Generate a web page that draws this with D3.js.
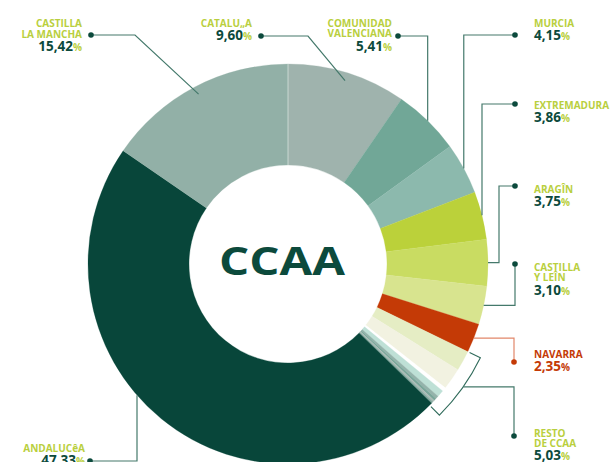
<!DOCTYPE html>
<html>
<head>
<meta charset="utf-8">
<script src="https://cdn.jsdelivr.net/npm/d3@7"></script>
<style>
  body { margin: 0; background: #fff; }
  svg { display: block; font-family: "Open Sans", sans-serif; }
</style>
</head>
<body>
<div id="chart"></div>
<script>
// share of each comunidad, clockwise from 12 o'clock
const regions = ["CATALU„A", "COMUNIDAD VALENCIANA", "MURCIA", "EXTREMADURA", "ARAGÎN",
  "CASTILLA Y LEÎN", "NAVARRA", "RESTO DE CCAA", "ANDALUCêA", "CASTILLA LA MANCHA"];
const shares = [9.60, 5.41, 4.15, 3.86, 3.75, 3.10, 2.35, 5.03, 47.33, 15.42];
const valueLabels = ["9,60", "5,41", "4,15", "3,86", "3,75", "3,10", "2,35", "5,03", "47,33", "15,42"];
const labelLines = [["CATALU„A"], ["COMUNIDAD", "VALENCIANA"], ["MURCIA"], ["EXTREMADURA"], ["ARAGÎN"],
  ["CASTILLA", "Y LEÎN"], ["NAVARRA"], ["RESTO", "DE CCAA"], ["ANDALUCêA"], ["CASTILLA", "LA MANCHA"]];
const colors = ["#9fb3ad", "#71a797", "#8cb9ad", "#bbd13a", "#c9dc62", "#d8e48f", "#c43a06", null, "#08463a", "#92b0a7"];
// the "resto" wedge is made of small slices (estimated)
const restoParts = [1.64, 1.75, 0.33, 0.56, 0.25, 0.20, 0.15, 0.15];
const restoColors = ["#e5edc4", "#f2f2e1", "#ffffff", "#bee0d6", "#94b3ab", "#7aa69a", "#a9bab5", "#86aaa0"];

const width = 610, height = 462;
const cx = 288, cy = 264, R = 200, r0 = 99;
const lime = "#b9cf3e", dark = "#0c4a3c", lineCol = "#44796b", red = "#c43a06";

const svg = d3.select("#chart").append("svg")
  .attr("width", width).attr("height", height);

const slices = [];
shares.forEach((v, i) => {
  if (colors[i] === null) {
    restoParts.forEach((p, j) => slices.push({ group: i, value: p, color: restoColors[j] }));
  } else {
    slices.push({ group: i, value: v, color: colors[i] });
  }
});

const pie = d3.pie().sort(null).value(d => d.value);
const arcs = pie(slices);
const arc = d3.arc().innerRadius(r0).outerRadius(R);

const g = svg.append("g").attr("transform", `translate(${cx},${cy})`);
g.selectAll("path").data(arcs).join("path")
  .attr("d", arc)
  .attr("fill", d => d.data.color)
  .attr("stroke", d => d.data.color)
  .attr("stroke-width", 0.3);

// faint seam at 12 o'clock
g.append("line").attr("x1", 0).attr("x2", 0).attr("y1", -r0).attr("y2", -R)
  .attr("stroke", "#fff").attr("stroke-opacity", 0.5).attr("stroke-width", 1);

// angular extent of each comunidad
const groups = shares.map((v, i) => {
  const a = arcs.filter(d => d.data.group === i);
  const s = d3.min(a, d => d.startAngle), e = d3.max(a, d => d.endAngle);
  return { start: s, end: e, mid: (s + e) / 2 };
});
const pt = (a, rad) => [cx + rad * Math.sin(a), cy - rad * Math.cos(a)];

// bracket round the resto wedge
const rg = groups[7];
const bracketR = 214, tickR = 202;
const b0 = pt(rg.start, tickR), b1 = pt(rg.start, bracketR), b2 = pt(rg.end + 0.015, bracketR), b3 = pt(rg.end + 0.015, tickR);
svg.append("path")
  .attr("d", `M${b0}L${b1}A${bracketR},${bracketR} 0 0 1 ${b2}L${b3}`)
  .attr("fill", "none").attr("stroke", "#2f6a5a").attr("stroke-width", 1.1);

// leader layout: dot position, text anchor and path shape
const layout = [
  { dot: [261, 36], anchor: "end", tx: 252, ty: 26.7, kind: "diag", ex: 308 },
  { dot: [398, 36], anchor: "end", tx: 392, ty: 27, kind: "hv" },
  { dot: [515, 35], anchor: "start", tx: 534, ty: 26.7, kind: "hv" },
  { dot: [515, 104], anchor: "start", tx: 534, ty: 109, kind: "hv" },
  { dot: [515, 186], anchor: "start", tx: 534, ty: 192.7, kind: "hvh", ex: 499 },
  { dot: [515, 264], anchor: "start", tx: 534, ty: 271, kind: "vh" },
  { dot: [514, 362], anchor: "start", tx: 534, ty: 358, kind: "vh" },
  { dot: [514, 436], anchor: "start", tx: 534, ty: 436.7, kind: "bracket" },
  { dot: [90, 461], anchor: "end", tx: 85, ty: 451.7, kind: "hcircle", ex: 137 },
  { dot: [91, 35], anchor: "end", tx: 82, ty: 27.3, kind: "diag", ex: 135 }
];

layout.forEach((L, i) => {
  const [dx, dy] = L.dot;
  const end = pt(groups[i].mid, R);
  let d;
  if (L.kind === "diag") {
    const e2 = pt(groups[i].mid, R - 8);
    d = `M${dx},${dy}H${L.ex}L${e2}`;
  } else if (L.kind === "hv") {
    d = `M${dx},${dy}H${end[0]}V${end[1]}`;
  } else if (L.kind === "hvh") {
    d = `M${dx},${dy}H${L.ex}V${end[1]}H${end[0]}`;
  } else if (L.kind === "vh") {
    d = `M${dx},${dy}V${end[1]}H${end[0]}`;
  } else if (L.kind === "bracket") {
    const m = pt(groups[i].mid, bracketR);
    d = `M${dx},${dy}V${m[1]}H${m[0]}`;
  } else {
    const yc = cy + Math.sqrt(R * R - (L.ex - cx) ** 2);
    d = `M${dx},${dy}H${L.ex}V${yc}`;
  }
  const isRed = colors[i] === red;
  svg.append("path").attr("d", d).attr("fill", "none")
    .attr("stroke", isRed ? "#e2876a" : lineCol).attr("stroke-width", 1.2);
  svg.append("circle").attr("cx", dx).attr("cy", dy).attr("r", 2.8)
    .attr("fill", isRed ? red : dark);

  const t = svg.append("text").attr("text-anchor", L.anchor).attr("font-weight", 700);
  labelLines[i].forEach((ln, k) => {
    t.append("tspan").attr("x", L.tx).attr("y", L.ty + k * 10.3)
      .attr("font-size", 10).attr("fill", isRed ? red : lime).text(ln);
  });
  const vy = L.ty + (labelLines[i].length - 1) * 10.3 + 13.3;
  const v = svg.append("text").attr("text-anchor", L.anchor).attr("font-weight", 700)
    .attr("x", L.tx).attr("y", vy);
  v.append("tspan").attr("font-size", 13.5).attr("fill", isRed ? red : dark).text(valueLabels[i]);
  v.append("tspan").attr("font-size", 10).attr("fill", isRed ? red : lime).text("%");
});

// centre title
svg.append("text").attr("x", 282).attr("y", 275)
  .attr("text-anchor", "middle").attr("font-weight", 700).attr("font-size", 39)
  .attr("textLength", 126).attr("lengthAdjust", "spacingAndGlyphs")
  .attr("fill", dark).text("CCAA");
</script>
</body>
</html>
